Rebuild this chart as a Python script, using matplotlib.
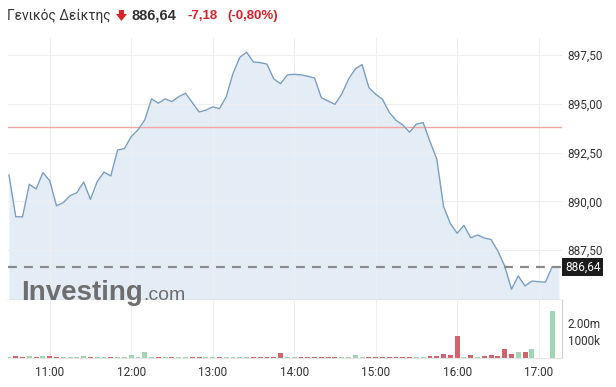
import matplotlib
matplotlib.use("Agg")
import matplotlib.pyplot as plt
from matplotlib.patches import Polygon
import numpy as np

# ---------------- data ----------------
start_minute = 10 * 60 + 30      # first sample 10:30, 5-minute samples
step_minutes = 5
prices = [891.36, 889.22, 889.21, 890.88, 890.64, 891.48, 891.07, 889.78, 889.94, 890.30,
          890.45, 891.00, 890.11, 891.02, 891.51, 891.31, 892.64, 892.71, 893.32, 893.67,
          894.18, 895.26, 895.04, 895.26, 895.12, 895.37, 895.55, 895.07, 894.59, 894.68,
          894.85, 894.76, 895.37, 896.57, 897.39, 897.65, 897.15, 897.12, 897.04, 896.28,
          896.04, 896.49, 896.52, 896.49, 896.42, 896.33, 895.32, 895.15, 894.98, 895.50,
          896.27, 896.79, 897.02, 895.84, 895.50, 895.24, 894.57, 894.16, 893.92, 893.55,
          893.97, 894.04, 893.07, 892.18, 889.74, 888.87, 888.37, 888.78, 888.14, 888.28,
          888.13, 888.05, 887.46, 886.69, 885.50, 886.18, 885.67, 885.92, 885.89, 885.86,
          886.66, 886.64]
# volume per 5-minute bar (thousands), 0 = no bar
volumes = [60, 100, 60, 100, 60, 130, 110, 60, 40, 30,
           30, 100, 50, 50, 80, 60, 40, 40, 170, 30,
           320, 30, 60, 30, 60, 40, 40, 40, 30, 30,
           30, 30, 40, 30, 30, 30, 40, 30, 30, 60,
           280, 40, 30, 30, 30, 30, 30, 60, 60, 30,
           30, 170, 30, 60, 60, 30, 60, 30, 30, 30,
           40, 40, 90, 90, 240, 190, 1260, 60, 170, 60,
           110, 190, 130, 510, 240, 320, 320, 510, 0, 0,
           2670, 0]
# bar direction: 1 = up (green), 0 = down (red)
vol_up = [1, 0, 0, 1, 0, 1, 0, 0, 1, 1,
          1, 1, 0, 1, 1, 0, 1, 1, 1, 1,
          1, 1, 0, 1, 0, 1, 1, 0, 0, 1,
          1, 0, 1, 1, 1, 1, 0, 0, 0, 0,
          0, 1, 1, 0, 0, 0, 0, 0, 0, 1,
          1, 1, 1, 0, 0, 0, 0, 0, 0, 0,
          1, 1, 0, 0, 0, 0, 0, 1, 0, 1,
          0, 0, 0, 0, 0, 1, 0, 1, 1, 1,
          1, 1]
prev_close = 893.82
last_price = 886.64
price_ticks = [887.5, 890.0, 892.5, 895.0, 897.5]
price_tick_labels = ["887,50", "890,00", "892,50", "895,00", "897,50"]
hour_ticks = ["11:00", "12:00", "13:00", "14:00", "15:00", "16:00", "17:00"]
vol_ticks = [1000, 2000]
vol_tick_labels = ["1000k", "2.00m"]
title_name = "Γενικός Δείκτης"
title_price = "886,64"
title_change = "-7,18"
title_pct = "(-0,80%)"

# ---------------- figure ----------------
W, H = 616, 387
fig = plt.figure(figsize=(W / 100, H / 100), dpi=100)
fig.patch.set_facecolor("white")
FONT = "Roboto"

def rect(x0, y0, x1, y1):
    return [x0 / W, 1 - y1 / H, (x1 - x0) / W, (y1 - y0) / H]

x = [start_minute + step_minutes * i for i in range(len(prices))]
hour_pos = [int(h.split(":")[0]) * 60 for h in hour_ticks]
xlim = (629.3, 1037.2)

ax = fig.add_axes(rect(8, 38, 562, 300))
axv = fig.add_axes(rect(8, 300, 562, 358))

ylo, yhi = 884.95, 898.38
ax.set_xlim(*xlim)
ax.set_ylim(ylo, yhi)
ax.fill_between(x, prices, ylo, color="#e4edf6", lw=0, zorder=1)
ax.plot(x, prices, color="#7b9fc0", lw=1.0, zorder=3)
ax.axhline(prev_close, color="#f0a6a6", lw=1.0, zorder=2)
ax.axhline(last_price, color="#8a8a8a", lw=1.6, dashes=(4, 3.2), zorder=4, clip_on=False)

ax.set_yticks(price_ticks)
ax.set_yticklabels(price_tick_labels)
ax.yaxis.tick_right()
ax.tick_params(axis="y", length=0, pad=4, labelsize=8.5, labelcolor="#333333")
for lab in ax.get_yticklabels():
    lab.set_fontfamily(FONT)
ax.set_xticks(hour_pos)
ax.tick_params(axis="x", length=0, labelbottom=False)
ax.grid(True, color="#eeeeee", lw=0.8, zorder=0)
for s in ["top", "left", "right"]:
    ax.spines[s].set_visible(False)
ax.spines["bottom"].set_color("#c8c8c8")
ax.spines["bottom"].set_linewidth(1.0)

# watermark
fig.text(21 / W, 1 - 300 / H, "Investing", fontsize=20, fontweight="bold",
         color="#6e6e6e", family="Liberation Sans", ha="left", va="baseline")
fig.text(143 / W, 1 - 300 / H, ".com", fontsize=14, color="#6e6e6e",
         family="Liberation Sans", ha="left", va="baseline")

# last price label
fig.text(565 / W, 1 - 267 / H, "886,64", fontsize=8.5, color="white", family=FONT,
         ha="left", va="center",
         bbox=dict(boxstyle="square,pad=0.22", facecolor="#1c1c1c", edgecolor="none"))

# volume
vcolors = ["#a3d4b3" if u else "#d0636d" for u in vol_up]
axv.bar(x, volumes, width=3.6, color=vcolors, zorder=2)
axv.set_xlim(*xlim)
axv.set_ylim(0, 3277)
axv.set_yticks(vol_ticks)
axv.set_yticklabels(vol_tick_labels)
axv.yaxis.tick_right()
axv.tick_params(axis="y", length=0, pad=4, labelsize=8.5, labelcolor="#333333")
axv.set_xticks(hour_pos)
axv.set_xticklabels(hour_ticks)
axv.tick_params(axis="x", length=0, pad=6, labelsize=8.5, labelcolor="#333333")
for lab in axv.get_yticklabels() + axv.get_xticklabels():
    lab.set_fontfamily(FONT)
axv.grid(True, axis="x", color="#eeeeee", lw=0.8, zorder=0)
axv.spines["top"].set_visible(False)
axv.spines["left"].set_visible(False)
axv.spines["right"].set_color("#d0d0d0")
axv.spines["bottom"].set_color("#e6e6e6")

# title
ty = 1 - 16 / H
fig.text(7 / W, ty, title_name, fontsize=9.9, color="#333333", family=FONT, va="center")
arrow = Polygon([[119, 10], [124, 10], [124, 14], [127, 14], [121.5, 21], [116, 14], [119, 14]],
                closed=True, transform=None, facecolor="#d8232a", edgecolor="none")
arrow.set_xy([[px, H - py] for px, py in arrow.get_xy()])
fig.patches.append(arrow)
fig.text(132 / W, ty, title_price, fontsize=10.5, fontweight="bold", color="#333333",
         family="Liberation Sans", va="center")
fig.text(188 / W, ty, title_change, fontsize=9.5, fontweight="bold", color="#d0232a",
         family="Liberation Sans", va="center")
fig.text(227 / W, ty, title_pct, fontsize=9.5, fontweight="bold", color="#d0232a",
         family="Liberation Sans", va="center")

fig.savefig("out.png", dpi=100)
